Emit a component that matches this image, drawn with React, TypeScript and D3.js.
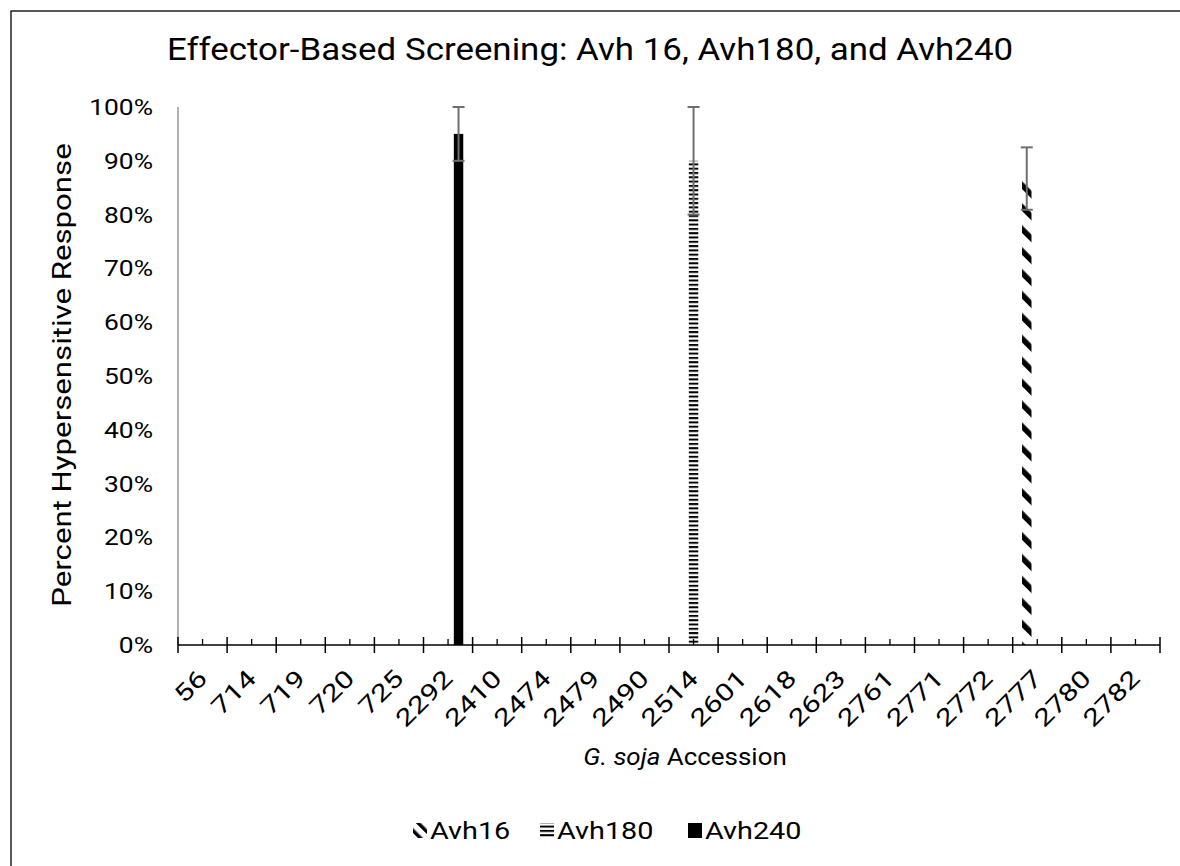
import React from "react";
import * as d3 from "d3";

const categories = ["56","714","719","720","725","2292","2410","2474","2479","2490","2514","2601","2618","2623","2761","2771","2772","2777","2780","2782"];
const seriesNames = ["Avh16","Avh180","Avh240"];
const avh16 = [0,0,0,0,0,0,0,0,0,0,0,0,0,0,0,0,0,0.867,0,0];
const avh180 = [0,0,0,0,0,0,0,0,0,0,0.9,0,0,0,0,0,0,0,0,0];
const avh240 = [0,0,0,0,0,0.95,0,0,0,0,0,0,0,0,0,0,0,0,0,0];
const err16 = [0,0,0,0,0,0,0,0,0,0,0,0,0,0,0,0,0,0.058,0,0];
const err180 = [0,0,0,0,0,0,0,0,0,0,0.1,0,0,0,0,0,0,0,0,0];
const err240 = [0,0,0,0,0,0.05,0,0,0,0,0,0,0,0,0,0,0,0,0,0];
const yTicks = [0,0.1,0.2,0.3,0.4,0.5,0.6,0.7,0.8,0.9,1.0];

const FONT = "Roboto, 'Liberation Sans', sans-serif";

export default function App() {
  const W = 1180, H = 866;
  const left = 178, right = 1160, top = 107, bottom = 645;
  const x0 = d3.scaleBand<string>().domain(categories).range([left, right]).paddingInner(0).paddingOuter(0);
  const x1 = d3.scaleBand<string>().domain(seriesNames).range([0, x0.bandwidth()]).paddingInner(0.1).paddingOuter(0.89);
  const y = d3.scaleLinear().domain([0, 1]).range([bottom, top]);
  const fmt = d3.format(".0%");
  const values = [avh16, avh180, avh240];
  const errs = [err16, err180, err240];
  const fills = ["url(#pDiag)", "url(#pHoriz)", "#000"];

  const majorTicks = d3.range(categories.length + 1).map(i => left + i * x0.step());
  const minorTicks = categories.map(c => (x0(c) as number) + x0.bandwidth() / 2);
  const legendX = [413, 540, 688];

  return (
    <svg width={W} height={H} style={{ display: "block", position: "absolute", left: 0, top: 0 }}>
      <defs>
        <pattern id="pDiag" patternUnits="userSpaceOnUse" width={15.5} height={15.5} patternTransform="rotate(-45)">
          <rect x={0} y={0} width={15.5} height={15.5} fill="#fff" />
          <rect x={0} y={0} width={5.5} height={15.5} fill="#000" />
        </pattern>
        <pattern id="pLeg" patternUnits="userSpaceOnUse" width={9} height={9} patternTransform="rotate(-45)">
          <rect x={0} y={0} width={9} height={9} fill="#fff" />
          <rect x={0} y={0} width={3.5} height={9} fill="#000" />
        </pattern>
        <pattern id="pHoriz" patternUnits="userSpaceOnUse" width={8} height={4.3}>
          <rect x={0} y={0} width={8} height={4.3} fill="#fff" />
          <rect x={0} y={0} width={8} height={2} fill="#000" />
        </pattern>
      </defs>
      <rect x={0} y={0} width={W} height={H} fill="#fff" />
      <rect x={11} y={11} width={W + 20} height={H + 20} fill="none" stroke="#000" strokeWidth={1.3} />
      <text transform="translate(590,60) scale(1.09,1)" textAnchor="middle" fontFamily={FONT} fontSize={32} fill="#000">
        Effector-Based Screening: Avh 16, Avh180, and Avh240
      </text>
      {/* y axis */}
      <line x1={left} x2={left} y1={top} y2={bottom} stroke="#868686" strokeWidth={1.3} />
      {yTicks.map(t => (
        <text key={t} transform={`translate(153,${y(t)}) scale(1.2,1)`} dy="0.36em" textAnchor="end" fontFamily={FONT} fontSize={22} fill="#000">{fmt(t)}</text>
      ))}
      <text transform={`translate(71,${375}) rotate(-90) scale(1.2,1)`} textAnchor="middle" fontFamily={FONT} fontSize={26} fill="#000">
        Percent Hypersensitive Response
      </text>
      {/* bars */}
      {values.map((vals, si) =>
        vals.map((v, ci) => {
          if (v <= 0) return null;
          const cx = (x0(categories[ci]) as number) + (x1(seriesNames[si]) as number);
          return (
            <rect key={`${si}-${ci}`} x={cx} y={y(v)} width={x1.bandwidth()} height={bottom - y(v)} fill={fills[si]} />
          );
        })
      )}
      {/* error bars */}
      {values.map((vals, si) =>
        vals.map((v, ci) => {
          const e = errs[si][ci];
          if (!e) return null;
          const cx = (x0(categories[ci]) as number) + (x1(seriesNames[si]) as number) + x1.bandwidth() / 2;
          const y1v = y(v + e), y2v = y(v - e);
          return (
            <g key={`e${si}-${ci}`} stroke="#6f6f6f" strokeWidth={2}>
              <line x1={cx} x2={cx} y1={y1v} y2={y2v} />
              <line x1={cx - 6} x2={cx + 6} y1={y1v} y2={y1v} />
              <line x1={cx - 6} x2={cx + 6} y1={y2v} y2={y2v} />
            </g>
          );
        })
      )}
      {/* x axis */}
      <line x1={left} x2={right} y1={bottom} y2={bottom} stroke="#000" strokeWidth={1.5} />
      {majorTicks.map((t, i) => (
        <line key={`M${i}`} x1={t} x2={t} y1={bottom - 8} y2={bottom + 8} stroke="#000" strokeWidth={1.5} />
      ))}
      {minorTicks.map((t, i) => (
        <line key={`m${i}`} x1={t} x2={t} y1={bottom - 6} y2={bottom} stroke="#000" strokeWidth={1.3} />
      ))}
      {categories.map(c => {
        const cx = (x0(c) as number) + x0.bandwidth() / 2;
        return (
          <text key={c} transform={`translate(${cx + 6},${bottom + 35}) rotate(-45) scale(1.27,1)`} textAnchor="end" fontFamily={FONT} fontSize={24} fill="#000">{c}</text>
        );
      })}
      <text transform="translate(685,765) scale(1.08,1)" textAnchor="middle" fontFamily={FONT} fontSize={24} fill="#000">
        <tspan fontStyle="italic">G. soja</tspan> Accession
      </text>
      {/* legend */}
      {seriesNames.map((s, i) => {
        const lx = legendX[i];
        return (
          <g key={s}>
            <rect x={lx} y={823} width={14} height={15} fill={i === 0 ? "url(#pLeg)" : fills[i]} />
            <text transform={`translate(${lx + 17},839) scale(1.2,1)`} fontFamily={FONT} fontSize={24} fill="#000">{s}</text>
          </g>
        );
      })}
    </svg>
  );
}
